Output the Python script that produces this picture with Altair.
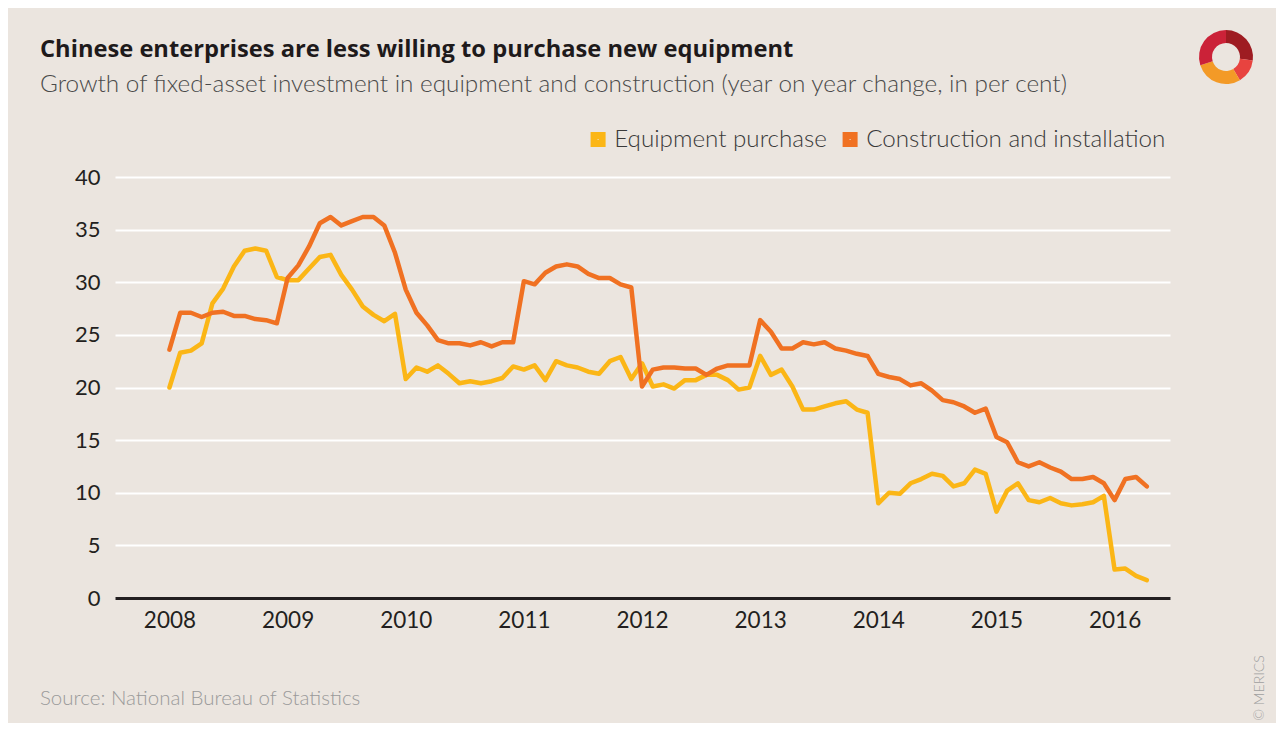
import altair as alt
import pandas as pd

# ---- data (year-to-date growth, reported Feb..Dec each year) ----
years = [2008, 2009, 2010, 2011, 2012, 2013, 2014, 2015, 2016]
months_2016 = ["02", "03", "04", "05"]

equipment = [
    20.0, 23.3, 23.5, 24.2, 28.0, 29.4, 31.5, 33.0, 33.2, 33.0, 30.5,
    30.2, 30.2, 31.3, 32.4, 32.6, 30.7, 29.3, 27.7, 26.9, 26.3, 27.0,
    20.8, 21.9, 21.5, 22.1, 21.3, 20.4, 20.6, 20.4, 20.6, 20.9, 22.0,
    21.7, 22.1, 20.7, 22.5, 22.1, 21.9, 21.5, 21.3, 22.5, 22.9, 20.8,
    22.3, 20.1, 20.3, 19.9, 20.7, 20.7, 21.2, 21.2, 20.7, 19.8, 20.0,
    23.0, 21.2, 21.7, 20.1, 17.9, 17.9, 18.2, 18.5, 18.7, 17.9, 17.6,
    9.0, 10.0, 9.9, 10.9, 11.3, 11.8, 11.6, 10.6, 10.9, 12.2, 11.8,
    8.2, 10.2, 10.9, 9.3, 9.1, 9.5, 9.0, 8.8, 8.9, 9.1, 9.7,
    2.7, 2.8, 2.1, 1.7,
]

construction = [
    23.6, 27.1, 27.1, 26.7, 27.1, 27.2, 26.8, 26.8, 26.5, 26.4, 26.1,
    30.4, 31.6, 33.4, 35.6, 36.2, 35.4, 35.8, 36.2, 36.2, 35.4, 32.8,
    29.3, 27.1, 25.9, 24.5, 24.2, 24.2, 24.0, 24.3, 23.9, 24.3, 24.3,
    30.1, 29.8, 30.9, 31.5, 31.7, 31.5, 30.8, 30.4, 30.4, 29.8, 29.5,
    20.1, 21.7, 21.9, 21.9, 21.8, 21.8, 21.2, 21.8, 22.1, 22.1, 22.1,
    26.4, 25.3, 23.7, 23.7, 24.3, 24.1, 24.3, 23.7, 23.5, 23.2, 23.0,
    21.3, 21.0, 20.8, 20.2, 20.4, 19.7, 18.8, 18.6, 18.2, 17.6, 18.0,
    15.3, 14.8, 12.9, 12.5, 12.9, 12.4, 12.0, 11.3, 11.3, 11.5, 10.9,
    9.3, 11.3, 11.5, 10.6,
]

series_names = ["Equipment purchase", "Construction and installation"]
series_colors = ["#FBB616", "#F07122"]
y_ticks = [0, 5, 10, 15, 20, 25, 30, 35, 40]

title_text = "Chinese enterprises are less willing to purchase new equipment"
subtitle_text = "Growth of fixed-asset investment in equipment and construction (year on year change, in per cent)"
source_text = "Source: National Bureau of Statistics"
copyright_text = "© MERICS"

# ---- build tables ----
periods = []
for y in years[:-1]:
    for m in range(2, 13):
        periods.append(f"{y}-{m:02d}")
for m in months_2016:
    periods.append(f"{years[-1]}-{m}")

idx = list(range(len(periods)))
df_eq = pd.DataFrame({"idx": idx, "period": periods, "value": equipment, "series": series_names[0]})
df_co = pd.DataFrame({"idx": idx, "period": periods, "value": construction, "series": series_names[1]})

per_year = 11
x_ticks = [per_year * i for i in range(len(years))]

FONT = "Lato"
BG = "#EBE5DF"

x_enc = alt.X(
    "idx:Q",
    scale=alt.Scale(domain=[-5.07, 93.16], nice=False, zero=False),
    axis=alt.Axis(
        values=x_ticks,
        labelExpr=f"toString({years[0]} + datum.value / {per_year})",
        grid=False, ticks=False, domain=True, domainColor="#231F20", domainWidth=3,
        labelFont=FONT, labelFontSize=22.5, labelColor="#231F20", labelPadding=11,
        title=None,
    ),
)
y_enc = alt.Y(
    "value:Q",
    scale=alt.Scale(domain=[0, 40], nice=False),
    axis=alt.Axis(
        values=y_ticks, grid=True, gridColor="#FFFFFF", gridWidth=2,
        domain=False, ticks=False,
        labelFont=FONT, labelFontSize=22, labelColor="#231F20", labelPadding=15,
        title=None,
    ),
)
color_enc = alt.Color(
    "series:N",
    scale=alt.Scale(domain=series_names, range=series_colors),
    legend=alt.Legend(
        orient="none", legendX=471, legendY=-50, direction="horizontal",
        title=None, symbolType="square", symbolSize=64, symbolStrokeWidth=7,
        labelFont=FONT, labelFontSize=24.2, labelFontWeight=300, labelColor="#3A3A3A",
        labelOffset=4, columnPadding=5, padding=0, labelLimit=500,
    ),
)

line_kw = dict(strokeWidth=4.5, strokeJoin="round", strokeCap="round")
eq_line = alt.Chart(df_eq).mark_line(**line_kw).encode(x=x_enc, y=y_enc, color=color_enc, order="idx:Q")
co_line = alt.Chart(df_co).mark_line(**line_kw).encode(x=x_enc, y=y_enc, color=color_enc, order="idx:Q")


def text_layer(txt, x, y, size, weight, color, font=FONT, angle=0, align="left", baseline="alphabetic"):
    return alt.Chart(pd.DataFrame({"t": [txt]})).mark_text(
        align=align, baseline=baseline, font=font, fontSize=size,
        fontWeight=weight, color=color, angle=angle,
    ).encode(x=alt.value(x), y=alt.value(y), text="t:N")


title = text_layer(title_text, -75, -120, 23.7, "bold", "#1E1A1B", font="Open Sans")
subtitle = text_layer(subtitle_text, -75, -85, 24.3, 300, "#4A4A4A")
source = text_layer(source_text, -75, 528, 20.5, 300, "#9A9A9A")
copyr = text_layer(copyright_text, 1145, 511, 14, 300, "#A0A0A0", angle=270, align="center", baseline="middle")

logo_df = pd.DataFrame({"k": [0]})
logo_parts = [
    (0.0, 1.7, "#9E1C22"),
    (1.7, 2.6, "#E8433F"),
    (2.6, 4.4, "#F39A27"),
    (4.4, 6.2832, "#CB2238"),
]
logo_layers = [
    alt.Chart(logo_df).mark_arc(radius=27, radius2=14, theta=a, theta2=b, color=c).encode(
        x=alt.value(1111), y=alt.value(-120)
    )
    for a, b, c in logo_parts
]

chart = alt.layer(eq_line, co_line, title, subtitle, source, copyr, *logo_layers).properties(
    width=1055, height=421,
    autosize=alt.AutoSizeParams(type="none"),
    padding={"left": 107, "top": 169, "right": 106, "bottom": 125},
    background=BG,
).configure_view(stroke=None)

chart.save("out.html", embed_options={"renderer": "svg", "actions": False})
